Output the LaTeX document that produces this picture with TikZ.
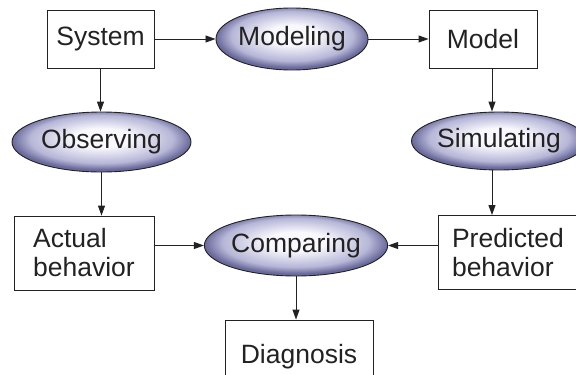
\documentclass[tikz,border=0pt]{standalone}
\usepackage{fontspec}
\setmainfont{Liberation Sans}
\usetikzlibrary{shapes.geometric,arrows.meta}
\definecolor{ellout}{RGB}{105,105,155}
\definecolor{ellmid}{RGB}{182,182,215}
\definecolor{ellin}{RGB}{248,248,253}
\definecolor{ink}{RGB}{34,34,34}
\pgfdeclareradialshading{ellshade}{\pgfpoint{0bp}{4bp}}{color(0bp)=(ellin); color(8bp)=(ellin); color(20bp)=(ellmid); color(25bp)=(ellout); color(50bp)=(ellout)}
\begin{document}
\begin{tikzpicture}[x=1pt,y=-1pt,
        every node/.style={text=ink,font=\fontsize{26.5}{29}\selectfont,inner sep=0pt},
        box/.style={draw=ink,line width=0.9pt,rectangle,align=left},
        act/.style={draw=ink,line width=0.9pt,ellipse,shading=ellshade},
        arr/.style={draw=ink,line width=0.9pt,-{Triangle[length=10pt,width=7pt]}}]
    \useasboundingbox (0,0) rectangle (576,375);

    \node[box,minimum width=107,minimum height=58] (sys) at (100.5,39) {System};
    \node[act,minimum width=140,minimum height=62] (modl) at (292,39) {Modeling};
    \node[box,minimum width=108,minimum height=58] (mdl) at (483,39) {Model};

    \node[act,minimum width=179,minimum height=60] (obs) at (101.5,142) {Observing};
    \node[act,minimum width=156,minimum height=58] (sim) at (499,141) {Simulating};

    \node[box,minimum width=140,minimum height=74] (actual) at (84,253) {Actual\\behavior};
    \node[act,minimum width=146,minimum height=61] (cmp) at (296,245.5) {Comparing};
    \node[box,minimum width=140,minimum height=74] (pred) at (508,252.5) {Predicted\\behavior};

    \node[box,minimum width=148,minimum height=74] (diag) at (299,357) {Diagnosis};

    \draw[arr] (sys) -- (modl);
    \draw[arr] (modl) -- (mdl);
    \draw[arr] (sys.south) -- (sys.south |- obs.north);
    \draw[arr] ([xshift=9]mdl.south) -- ([xshift=9]mdl.south |- sim.north);
    \draw[arr] (obs.south) -- (obs.south |- actual.north);
    \draw[arr] ([xshift=-7]sim.south) -- ([xshift=-7]sim.south |- pred.north);
    \draw[arr] (actual.east |- cmp.west) -- (cmp.west);
    \draw[arr] (pred.west |- cmp.east) -- (cmp.east);
    \draw[arr] (cmp.south) -- (cmp.south |- diag.north);
\end{tikzpicture}
\end{document}
